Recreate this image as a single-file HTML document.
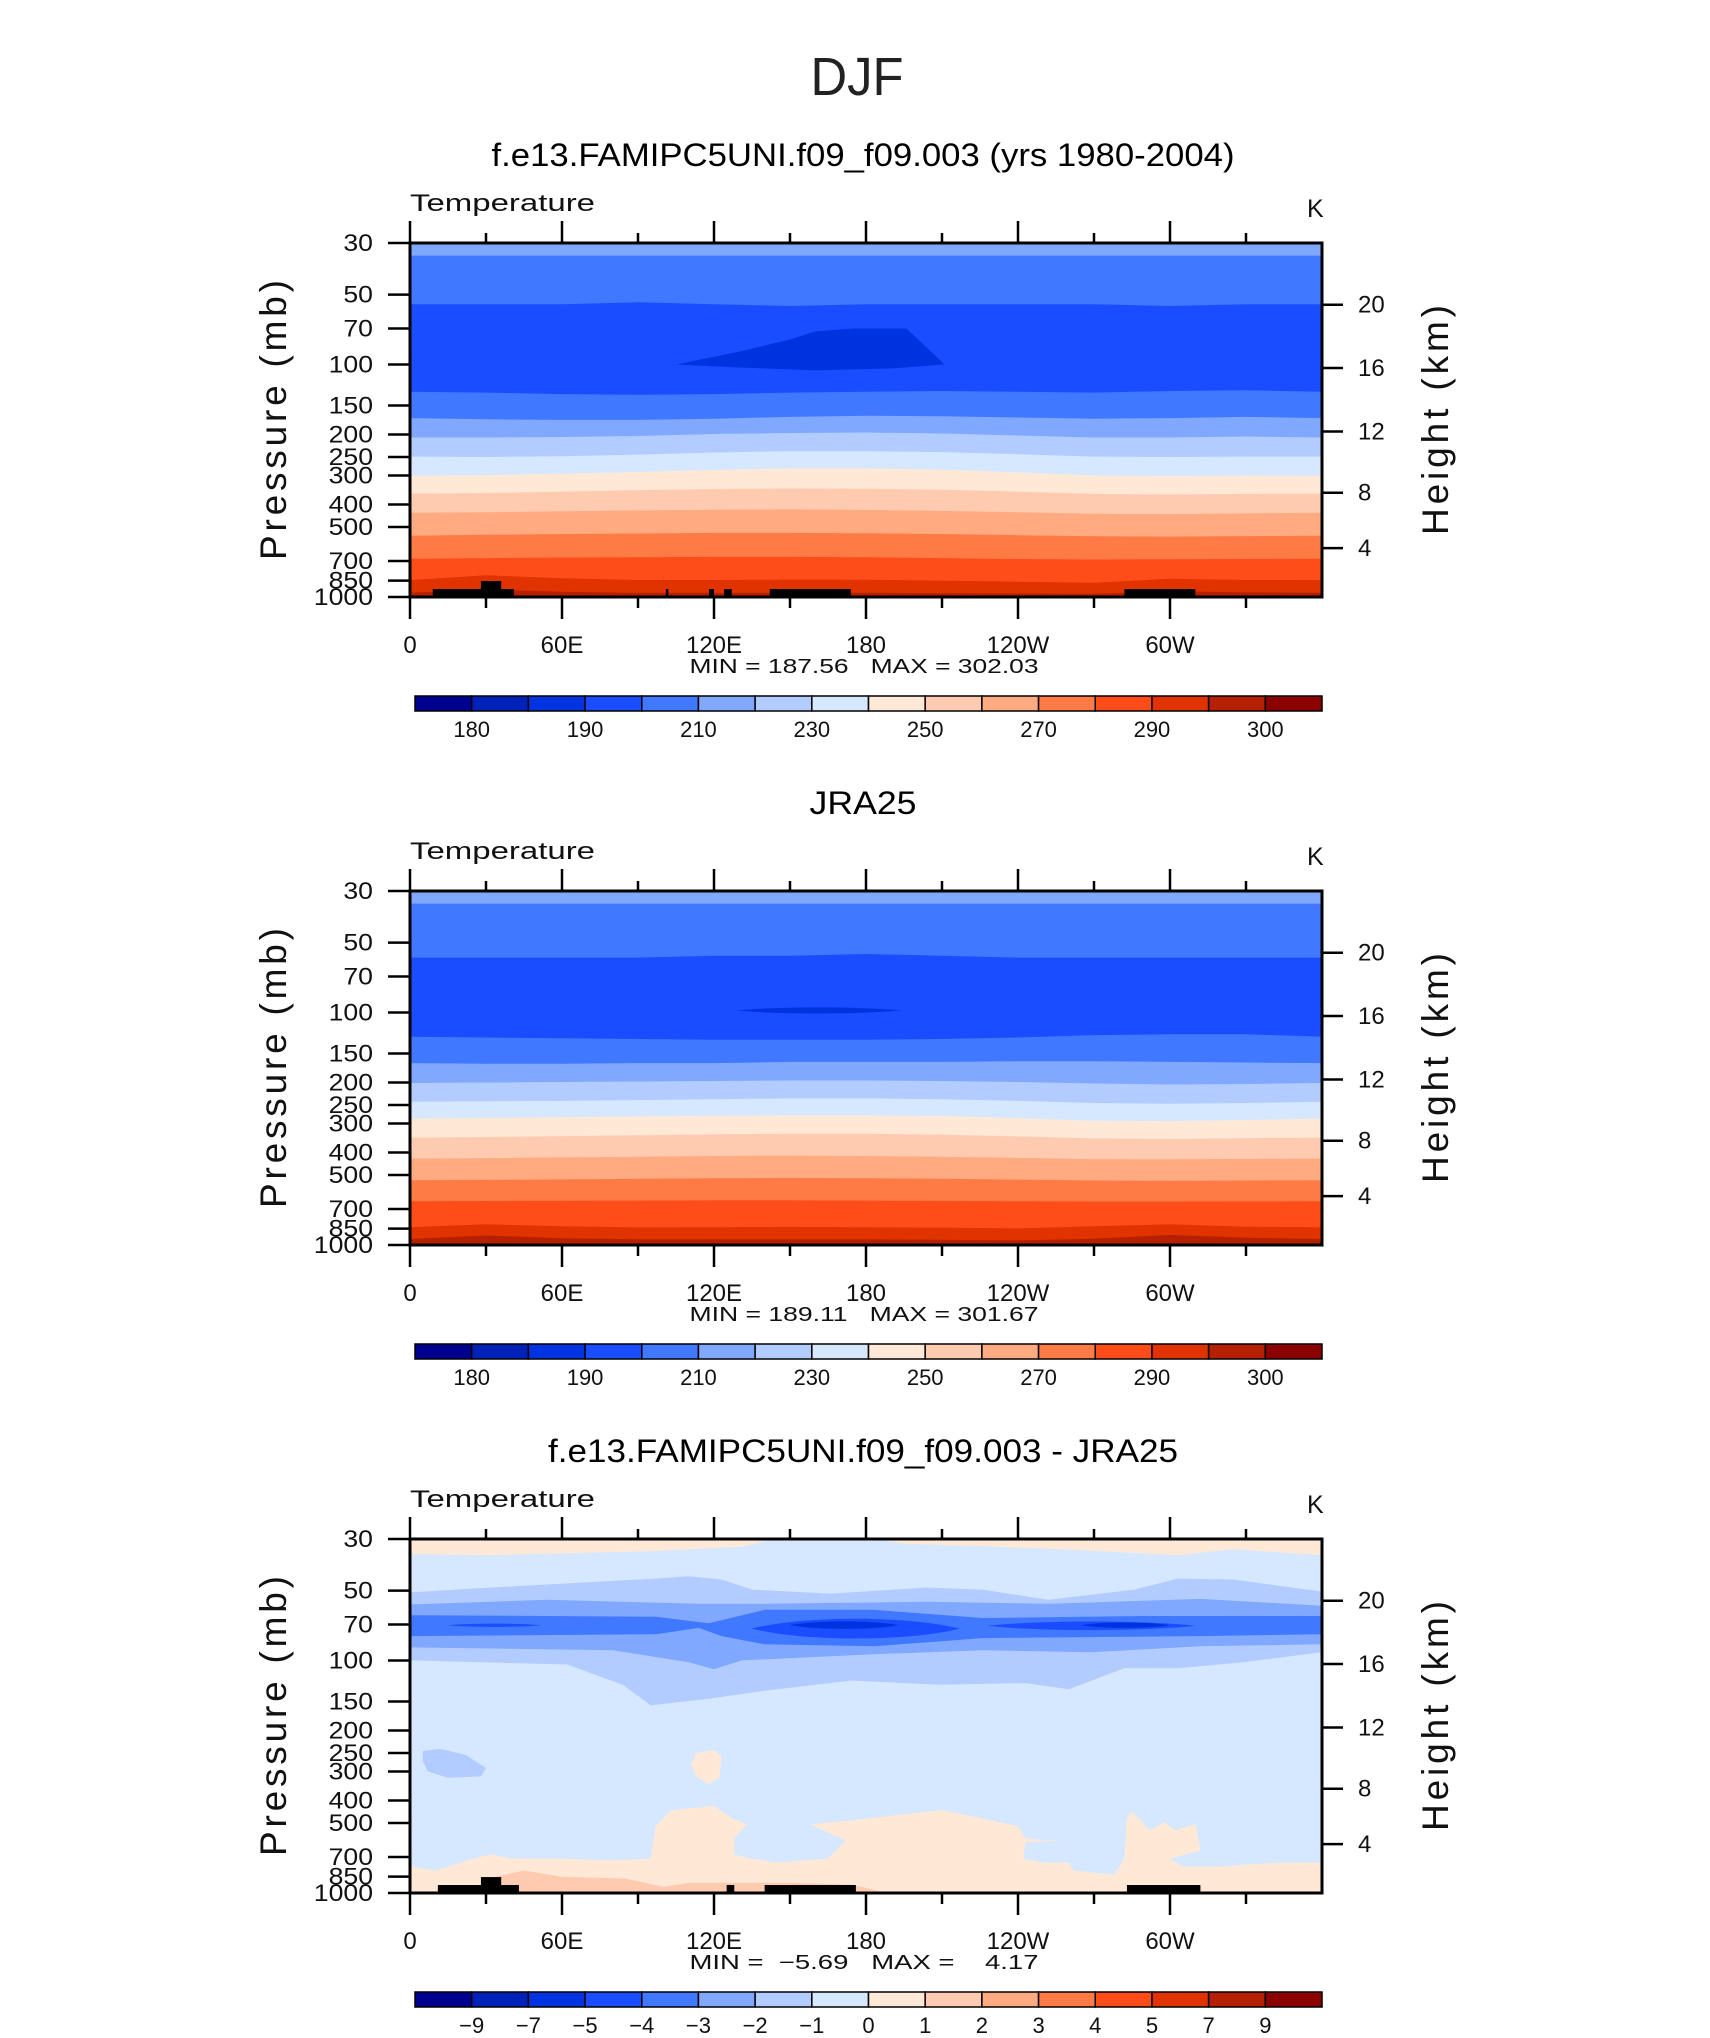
<!DOCTYPE html>
<html><head><meta charset="utf-8">
<style>
html,body{margin:0;padding:0;background:#fff;}
svg{display:block;font-family:"Liberation Sans",sans-serif;}
.pre{white-space:pre;}
</style></head>
<body>
<svg id="fig" width="1710" height="2038" viewBox="0 0 1710 2038" xmlns="http://www.w3.org/2000/svg">
<rect width="1710" height="2038" fill="#fff"/>
<text x="857" y="95" font-size="54" text-anchor="middle" textLength="93" lengthAdjust="spacingAndGlyphs" fill="#222">DJF</text>
</svg>
<script>
// ---------- data ----------
const colors = ["#000090","#0022b8","#0033e0","#1a4dff","#4078ff","#80a8ff","#b3ccff","#d6e8ff","#ffe9d6","#ffcbb0","#ffaa80","#ff7b45","#ff4d1a","#e03300","#b52000","#8b0000"];
const pressureTicks = [30,50,70,100,150,200,250,300,400,500,700,850,1000];
const heightTicks = [20,16,12,8,4];
const heightTickP = [55.3,103.5,194,356,616]; // standard-atmosphere pressure at each height
const lonTicks = [0,30,60,90,120,150,180,210,240,270,300,330];
const lonLabels = ["0","","60E","","120E","","180","","120W","","60W",""];
const tempBarLabels = ["","180","","190","","210","","230","","250","","270","","290","","300",""];
const diffBarLabels = ["","-9","-7","-5","-4","-3","-2","-1","0","1","2","3","4","5","7","9",""];
const lonGrid = [0,30,60,90,120,150,180,210,240,270,300,330,360];

const p1Colors = [5,4,3,4,5,6,7,8,9,10,11,12,13];
const p1Bounds = [
 [34,34,34,34,34,34,34,34,34,34,34,34,34],
 [55,55,55,54,55,56,55,55,55,55,56,55,55],
 [131,132,134,135,134,132,131,130,131,132,130,129,131],
 [170,172,173,173,171,168,166,167,169,171,170,168,170],
 [206,206,205,203,199,197,196,198,202,206,206,204,206],
 [249,250,248,244,239,236,236,238,243,249,250,249,249],
 [301,299,295,290,284,280,280,283,291,300,302,300,301],
 [359,357,352,347,343,341,342,345,352,360,362,360,359],
 [434,432,428,424,421,420,422,426,432,438,440,437,434],
 [545,540,536,533,530,530,532,536,542,548,550,547,545],
 [684,680,676,674,672,672,675,680,686,690,688,686,684],
 [846,806,830,845,845,842,843,850,860,868,835,845,846],
 [959,930,950,960,960,958,958,962,966,968,945,955,959]
];
const p1BlobLon = [105,130,150,160,175,196,211,190,160,130];
const p1BlobP = [100,88,78,72,70,70,100,104,106,103];
const p1Topo = [[9,41,924],[28,36,854],[101,102,924],[118,120,924],[124,127,924],[142,174,924],[282,310,924]];

const p2Colors = [5,4,3,4,5,6,7,8,9,10,11,12,13];
const p2Bounds = [
 [34,34,34,34,34,34,34,34,34,34,34,34,34],
 [58,58,58,58,57,57,56,57,58,58,58,58,58],
 [127,128,129,130,131,131,131,130,128,125,124,124,127],
 [165,166,166,165,165,163,163,163,162,162,163,164,165],
 [201,200,199,198,197,196,196,197,199,202,204,203,201],
 [242,241,240,238,236,234,234,236,240,245,247,245,242],
 [286,284,282,280,278,277,277,279,285,292,293,290,286],
 [345,343,340,337,334,332,332,335,341,348,350,347,345],
 [425,423,420,417,414,413,414,417,422,427,428,426,425],
 [527,525,522,519,516,515,516,519,523,528,530,528,527],
 [648,647,645,644,643,643,644,646,648,650,650,649,648],
 [838,815,830,840,838,836,838,842,848,830,815,835,838],
 [942,910,935,945,945,945,945,950,955,940,905,930,942]
];
const p2LensLon = [129,194];
const p2LensP = [94,102];

const d8TopLon = [0,32,97,131,144,183,196,247,303,325,360];
const d8TopP = [34.8,35.2,33.8,32.3,30,30,31.5,32.8,35.2,33.2,35.2];
const d6TopLon = [0,32,97,110,123,135,166,204,226,252,286,303,325,360];
const d6TopP = [50.9,48.5,44.4,43.4,44.8,49.5,51.5,48.5,49.5,54.8,49.5,44.4,44.8,50.5];
const d6BotLon = [0,62,84,95,118,140,174,209,243,260,282,303,329,360];
const d6BotP = [99.9,104,127,156,146,135,122,127,125,133,108,108,101.8,92.1];
const d5TopLon = [0,54,114,140,204,252,312,360];
const d5TopP = [57.4,54.8,57,57,55.9,57,54.3,58.1];
const d5BotLon = [0,80,110,120,131,183,226,269,312,360];
const d5BotP = [87.8,90.3,101.8,109,99.9,94,90.3,92.1,86.8,85.1];
const d4TopLon = [0,97,118,140,183,226,290,360];
const d4TopP = [63.8,64.8,69.1,60.5,60.5,65.6,64.3,64.3];
const d4BotLon = [0,97,114,123,140,183,226,312,360];
const d4BotP = [78.5,77,72.4,78.5,85.1,86.8,80.1,78.5,77];
const dLenses = [[135,217,64,83,3],[150,193,67,74,2],[15,52,69,72,3],[228,310,67,75,3],[265,300,68,73,2],[200,225,830,850,9],[325,350,905,925,9]];
const dSfcLon = [0,10,25,32,40,60,80,95,97,103,112,120,127,133,128,128,135,145,155,165,172,158,175,195,210,225,240,243,250,258,243,242,250,260,262,270,278,282,283,285,292,298,302,310,311,312,300,305,320,330,345,360];
const dSfcP = [770,801,711,683,711,711,725,711,516,440,431,422,476,506,581,683,711,740,725,711,594,506,486,458,440,476,516,581,594,594,605,711,740,740,801,817,834,711,476,448,537,496,537,506,570,656,711,770,770,755,740,740];
const d9Lon = [30,45,60,85,100,110,150,175,185];
const d9P = [870,800,851,866,941,904,904,922,980];
const d6BlobLon = [5,12,22,30,28,15,7,5];
const d6BlobP = [245,240,255,290,315,319,300,270];
const d8BlobLon = [113,120,123,122,118,113,111];
const d8BlobP = [250,243,260,320,340,315,280];
const p3Topo = [[11,43,924],[28,36,854],[125,128,924],[140,176,924],[283,312,924]];

// ---------- drawing ----------
const NS = "http://www.w3.org/2000/svg";
const svg = document.getElementById("fig");
const X0 = 410, X1 = 1322, H = 354;
function xs(lon){ return X0 + lon/360*(X1-X0); }
function mk(tag, attrs, parent){
  const e = document.createElementNS(NS, tag);
  for (const k in attrs) e.setAttribute(k, attrs[k]);
  (parent||svg).appendChild(e);
  return e;
}
function ptsStr(lons, ps, ysf){ return lons.map((l,i)=>xs(l).toFixed(1)+","+ysf(ps[i]).toFixed(1)).join(" "); }

function drawPanel(k, title, titleLen, minmax, barLabels, fill){
  const y0 = 243 + k*648;
  const ys = p => y0 + H*Math.log(p/30)/Math.log(1000/30);
  const g = mk("g", {});
  
  
  const t = mk("text", {x:863, y:166+k*648, "font-size":32, "text-anchor":"middle", textLength:titleLen, lengthAdjust:"spacingAndGlyphs", fill:"#000"}, g);
  t.textContent = title;
  
  
  const tl = mk("text", {x:X0, y:211+k*648, "font-size":24, textLength:185, lengthAdjust:"spacingAndGlyphs", fill:"#111"}, g);
  tl.textContent = "Temperature";
  
  
  const ku = mk("text", {x:1307, y:217+k*648, "font-size":25, fill:"#111"}, g);
  ku.textContent = "K";
  
  
  const cp = mk("clipPath", {id:"clip"+k}, g);
  mk("rect", {x:X0, y:y0, width:X1-X0, height:H}, cp);
  const fg = mk("g", {"clip-path":"url(#clip"+k+")"}, g);
  
  
  fill(fg, ys, y0);
  const fr = mk("rect", {x:X0, y:y0, width:X1-X0, height:H, fill:"none", stroke:"#000", "stroke-width":3}, g);
  
  
  lonTicks.forEach((lon,i)=>{
    const major = lon%60===0;
    const x = xs(lon);
    const a = mk("line", {x1:x, x2:x, y1:y0, y2:y0-(major?22:10), stroke:"#000", "stroke-width":2.5}, g);
    
    
    const b = mk("line", {x1:x, x2:x, y1:y0+H, y2:y0+H+(major?22:11), stroke:"#000", "stroke-width":2.5}, g);
    
    
    if (lonLabels[i]) {
      const tx = mk("text", {x:x, y:y0+H+56, "font-size":24, "text-anchor":"middle", fill:"#111"}, g);
      tx.textContent = lonLabels[i];
      
      
    }
  });
  pressureTicks.forEach(p=>{
    const y = ys(p);
    const l = mk("line", {x1:X0-22, x2:X0, y1:y, y2:y, stroke:"#000", "stroke-width":2.5}, g);
    
    
    const s = String(p);
    const tx = mk("text", {x:373, y:y+8, "font-size":24, "text-anchor":"end", textLength:s.length*14.8, lengthAdjust:"spacingAndGlyphs", fill:"#111"}, g);
    tx.textContent = s;
    
    
  });
  heightTicks.forEach((z,i)=>{
    const y = ys(heightTickP[i]);
    const l = mk("line", {x1:X1, x2:X1+21, y1:y, y2:y, stroke:"#000", "stroke-width":2.5}, g);
    
    
    const tx = mk("text", {x:1358, y:y+8, "font-size":24, fill:"#111"}, g);
    tx.textContent = String(z);
    
    
  });
  const yt = mk("text", {x:0, y:0, "font-size":37, "text-anchor":"middle", textLength:280, lengthAdjust:"spacing", fill:"#111", transform:"translate(286,"+(y0+177)+") rotate(-90)"}, g);
  yt.textContent = "Pressure (mb)";
  
  
  const ht = mk("text", {x:0, y:0, "font-size":37, "text-anchor":"middle", textLength:230, lengthAdjust:"spacing", fill:"#111", transform:"translate(1448,"+(y0+177)+") rotate(-90)"}, g);
  ht.textContent = "Height (km)";
  
  
  const mm = mk("text", {x:864, y:y0+H+76, "font-size":20, "text-anchor":"middle", textLength:349, lengthAdjust:"spacingAndGlyphs", fill:"#111", "class":"pre"}, g);
  mm.textContent = minmax;
  
  
  const cb = mk("g", {}, g);
  
  
  const bx0 = 415, bx1 = 1322, by = 696 + k*648, bw = (bx1-bx0)/16;
  colors.forEach((c,i)=>{
    const r = mk("rect", {x:bx0+i*bw, y:by, width:bw, height:15, fill:c, stroke:"#000", "stroke-width":1.5}, cb);
    
    
  });
  barLabels.forEach((lb,i)=>{
    if (!lb) return;
    const tx = mk("text", {x:bx0+i*bw, y:by+41, "font-size":22, "text-anchor":"middle", fill:"#111"}, cb);
    tx.textContent = lb.replace("-", "\u2212");
    
    
  });
}

function layeredFill(fg, ys, y0, cols, bounds){
  const base = mk("rect", {x:X0, y:y0, width:X1-X0, height:H, fill:colors[14]}, fg);
  
  
  for (let i = bounds.length-1; i >= 0; i--) {
    const pts = xs(0)+","+y0+" "+xs(360)+","+y0+" "+ptsStr(lonGrid.slice().reverse(), bounds[i].slice().reverse(), ys);
    const pg = mk("polygon", {points:pts, fill:colors[cols[i]]}, fg);
    
    
  }
}
function topo(fg, ys, y0, list){
  list.forEach(t=>{
    const r = mk("rect", {x:xs(t[0]), y:ys(t[2]), width:xs(t[1])-xs(t[0]), height:y0+H-ys(t[2])+2, fill:"#000"}, fg);
    
    
  });
}
function lens(fg, ys, L){
  const xa = xs(L[0]), xb = xs(L[1]), yt = ys(L[2]), yb = ys(L[3]);
  const ym = (yt+yb)/2, xm = (xa+xb)/2;
  const d = "M"+xa+","+ym+" C"+(xa+(xm-xa)*0.5)+","+yt+" "+(xb-(xb-xm)*0.5)+","+yt+" "+xb+","+ym+" C"+(xb-(xb-xm)*0.5)+","+yb+" "+(xa+(xm-xa)*0.5)+","+yb+" "+xa+","+ym+"Z";
  const p = mk("path", {d:d, fill:colors[L[4]]}, fg);
  
  
}
function ribbon(fg, ys, tl, tp, bl, bp, c){
  const pts = ptsStr(tl, tp, ys)+" "+ptsStr(bl.slice().reverse(), bp.slice().reverse(), ys);
  const pg = mk("polygon", {points:pts, fill:colors[c]}, fg);
  
  
}

drawPanel(0, "f.e13.FAMIPC5UNI.f09_f09.003 (yrs 1980-2004)", 743, "MIN = 187.56   MAX = 302.03", tempBarLabels, (fg, ys, y0)=>{
  layeredFill(fg, ys, y0, p1Colors, p1Bounds);
  const pg = mk("polygon", {points:ptsStr(p1BlobLon, p1BlobP, ys), fill:colors[2]}, fg);
  
  
  topo(fg, ys, y0, p1Topo);
});
drawPanel(1, "JRA25", 107, "MIN = 189.11   MAX = 301.67", tempBarLabels, (fg, ys, y0)=>{
  layeredFill(fg, ys, y0, p2Colors, p2Bounds);
  lens(fg, ys, [p2LensLon[0], p2LensLon[1], p2LensP[0], p2LensP[1], 2]);
});
drawPanel(2, "f.e13.FAMIPC5UNI.f09_f09.003 - JRA25", 630, "MIN =  \u22125.69   MAX =    4.17", diffBarLabels, (fg, ys, y0)=>{
  const base = mk("rect", {x:X0, y:y0, width:X1-X0, height:H, fill:colors[7]}, fg);
  
  
  ribbon(fg, ys, [0,360], [20,20], d8TopLon, d8TopP, 8);
  ribbon(fg, ys, d6TopLon, d6TopP, d6BotLon, d6BotP, 6);
  ribbon(fg, ys, d5TopLon, d5TopP, d5BotLon, d5BotP, 5);
  ribbon(fg, ys, d4TopLon, d4TopP, d4BotLon, d4BotP, 4);
  dLenses.forEach(L=>lens(fg, ys, L));
  ribbon(fg, ys, d6BlobLon, d6BlobP, [], [], 6);
  ribbon(fg, ys, d8BlobLon, d8BlobP, [], [], 8);
  ribbon(fg, ys, dSfcLon, dSfcP, [0,360], [1100,1100], 8);
  ribbon(fg, ys, d9Lon, d9P, [30,185], [1100,1100], 9);
  topo(fg, ys, y0, p3Topo);
});
</script>
</body></html>
